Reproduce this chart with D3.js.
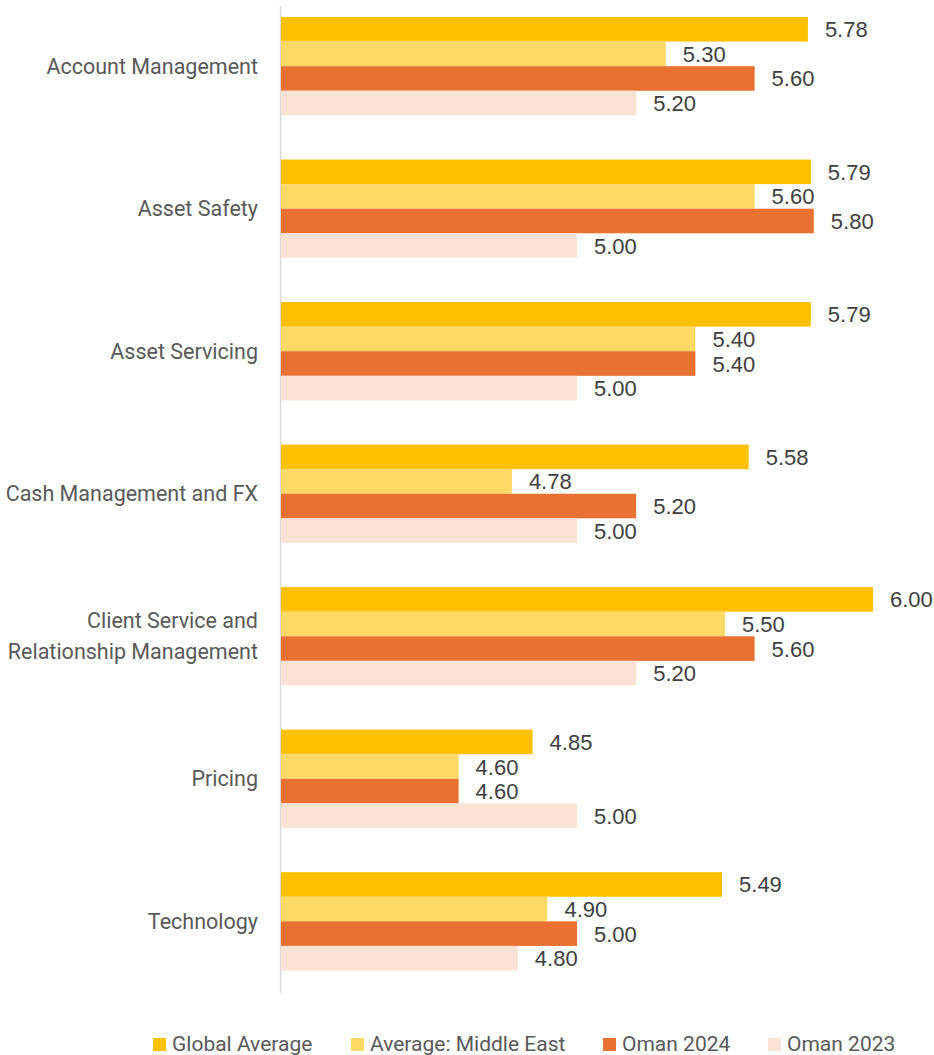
<!DOCTYPE html>
<html>
<head>
<meta charset="utf-8">
<script src="https://cdn.jsdelivr.net/npm/d3@7/dist/d3.min.js"></script>
<style>
  html, body { margin: 0; padding: 0; background: #fff; }
  svg { display: block; }
</style>
</head>
<body>
<svg id="chart" width="934" height="1055"></svg>
<script>
// Service area ratings by benchmark group
const categories = [
  ["Account Management"],
  ["Asset Safety"],
  ["Asset Servicing"],
  ["Cash Management and FX"],
  ["Client Service and", "Relationship Management"],
  ["Pricing"],
  ["Technology"]
];
const seriesNames = ["Global Average", "Average: Middle East", "Oman 2024", "Oman 2023"];
const globalAverage   = [5.78, 5.79, 5.79, 5.58, 6.00, 4.85, 5.49];
const middleEastAvg   = [5.30, 5.60, 5.40, 4.78, 5.50, 4.60, 4.90];
const oman2024        = [5.60, 5.80, 5.40, 5.20, 5.60, 4.60, 5.00];
const oman2023        = [5.20, 5.00, 5.00, 5.00, 5.20, 5.00, 4.80];
const seriesColors = ["#FFC000", "#FFD966", "#E97132", "#FAE2D5"];

const seriesValues = [globalAverage, middleEastAvg, oman2024, oman2023];
const catKeys = categories.map(c => c.join(" "));

const svg = d3.select("#chart");

const x = d3.scaleLinear().domain([4, 6]).range([281, 873]);
const y0 = d3.scaleBand().domain(catKeys).range([17, 970.5]).paddingInner(0.31).paddingOuter(0);
const y1 = d3.scaleBand().domain(seriesNames).range([0, y0.bandwidth()]);

// vertical category axis line
svg.append("line")
  .attr("x1", 280.5).attr("x2", 280.5)
  .attr("y1", 6).attr("y2", 993)
  .attr("stroke", "#D9D9D9").attr("stroke-width", 1.5);

const groups = svg.selectAll("g.cat")
  .data(catKeys)
  .join("g")
  .attr("class", "cat")
  .attr("transform", d => `translate(0,${y0(d)})`);

groups.each(function(key, ci) {
  const g = d3.select(this);
  seriesNames.forEach((s, si) => {
    const v = seriesValues[si][ci];
    g.append("rect")
      .attr("x", x(4))
      .attr("y", y1(s))
      .attr("width", x(v) - x(4))
      .attr("height", y1.bandwidth())
      .attr("fill", seriesColors[si]);
    g.append("text")
      .attr("x", x(v) + 17)
      .attr("y", y1(s) + y1.bandwidth() / 2 + 8)
      .attr("font-family", "Liberation Sans, Arial, sans-serif")
      .attr("font-size", 22)
      .attr("fill", "#404040")
      .text(v.toFixed(2));
  });
});

// category labels, right-aligned against the axis
groups.each(function(key, ci) {
  const lines = categories[ci];
  const cy = y0.bandwidth() / 2;
  const lh = 31;
  const t = d3.select(this).append("text")
    .attr("text-anchor", "end")
    .attr("font-family", "Roboto, sans-serif")
    .attr("font-size", 21.5)
    .attr("fill", "#595959");
  lines.forEach((ln, li) => {
    t.append("tspan")
      .attr("x", 258)
      .attr("y", cy + 7.5 + (li - (lines.length - 1) / 2) * lh)
      .text(ln);
  });
});

// legend
const legendX = [153, 351, 603, 768];
const legend = svg.append("g").attr("class", "legend");
seriesNames.forEach((s, i) => {
  legend.append("rect")
    .attr("x", legendX[i]).attr("y", 1038)
    .attr("width", 13).attr("height", 13)
    .attr("fill", seriesColors[i]);
  legend.append("text")
    .attr("x", legendX[i] + 19).attr("y", 1051)
    .attr("font-family", "Roboto, sans-serif")
    .attr("font-size", 21)
    .attr("fill", "#595959")
    .text(s);
});
</script>
</body>
</html>
